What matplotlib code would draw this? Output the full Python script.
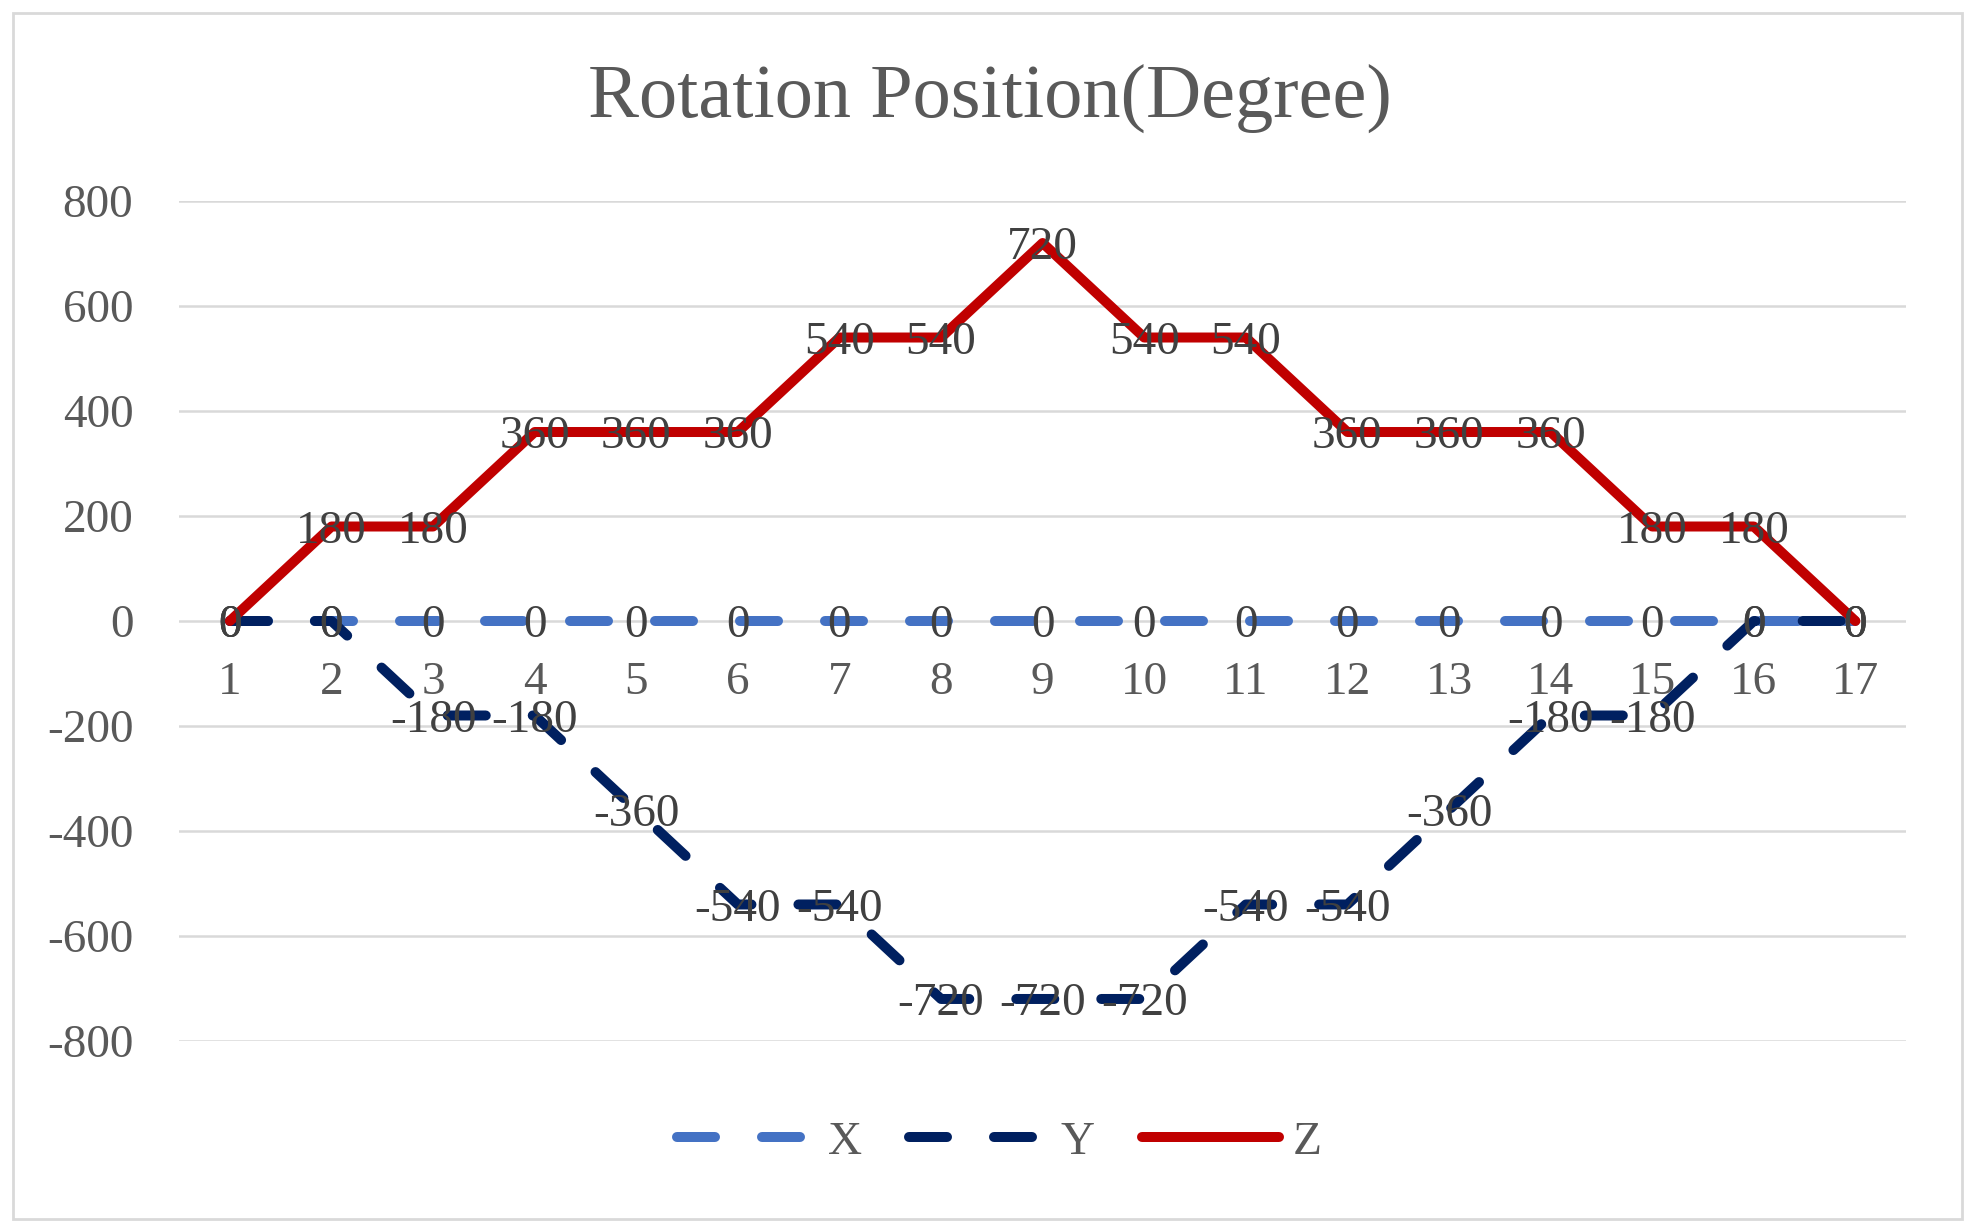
import matplotlib
matplotlib.use("Agg")
import matplotlib.pyplot as plt
from matplotlib.patches import Rectangle

plt.rcParams['font.family'] = ['Liberation Serif', 'DejaVu Serif']

# data
steps = list(range(1, 18))
x_rot = [0] * 17
y_rot = [0, 0, -180, -180, -360, -540, -540, -720, -720, -720, -540, -540, -360, -180, -180, 0, 0]
z_rot = [0, 180, 180, 360, 360, 360, 540, 540, 720, 540, 540, 360, 360, 360, 180, 180, 0]
y_ticks = [-800, -600, -400, -200, 0, 200, 400, 600, 800]

series = [("X", x_rot, "#4472C4", (0, (3.8, 4.7))),
          ("Y", y_rot, "#002060", (0, (3.8, 4.7))),
          ("Z", z_rot, "#C00000", "-")]

fig = plt.figure(figsize=(19.79, 12.28), dpi=100)
ax = fig.add_axes([0.0905, 0.1523, 0.8727, 0.684])

for name, vals, col, ls in series:
    ax.plot(steps, vals, color=col, lw=7.2, ls=ls, label=name,
            solid_capstyle="round", dash_capstyle="round", solid_joinstyle="round")

# data labels sit on top of every line
for name, vals, col, ls in series:
    for s, v in zip(steps, vals):
        ax.text(s, v, str(v), ha="center", va="center_baseline", fontsize=34,
                color="#404040", zorder=5)

ax.set_xlim(0.5, 17.5)
ax.set_ylim(-800, 800)
ax.set_yticks(y_ticks)
ax.set_yticklabels([str(t) for t in y_ticks])
ax.set_xticks(steps)
ax.set_xticklabels([str(s) for s in steps])
ax.yaxis.grid(True, color="#D9D9D9", lw=1.8)
ax.set_axisbelow(True)
for sp in ["top", "right", "left"]:
    ax.spines[sp].set_visible(False)
ax.spines["bottom"].set_position(("data", 0))
ax.spines["bottom"].set_visible(False)
ax.tick_params(axis="both", length=0, labelsize=34, labelcolor="#595959")
ax.tick_params(axis="x", pad=29)
ax.tick_params(axis="y", pad=33)

fig.text(0.5, 0.905, "Rotation Position(Degree)", ha="center", va="baseline",
         fontsize=55, color="#595959")

ax.legend(loc="center", bbox_to_anchor=(0.505, 0.07), bbox_transform=fig.transFigure,
          ncol=3, frameon=False, fontsize=34, handlelength=2.9, handletextpad=0.3,
          columnspacing=1.0, labelcolor="#595959")

fig.patches.append(Rectangle((0.0066, 0.0073), 0.9848, 0.9821, transform=fig.transFigure,
                             fill=False, edgecolor="#D9D9D9", lw=2))

fig.savefig("out.png", dpi=100, facecolor="white")
